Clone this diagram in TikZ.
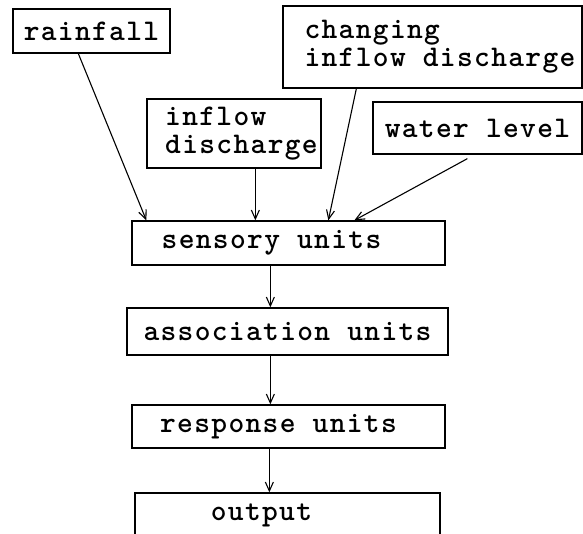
\documentclass[tikz,border=0pt]{standalone}
\usepackage{fontspec}
\setmonofont{lmmonolt10-bold.otf}[LetterSpace=4.5]
\usetikzlibrary{calc,arrows.meta}
\begin{document}
\begin{tikzpicture}[x=1pt,y=-1pt,
  box/.style={draw, line width=1.3pt, inner sep=0pt, align=left,
    font=\ttfamily\fontsize{30}{28}\selectfont},
  conn/.style={line width=1.1pt, -{Straight Barb[length=9pt,width=8pt]}}]
\useasboundingbox (0,0) rectangle (583,533);
\node[box, minimum width=157pt, minimum height=44pt] (rain) at (91.5,31) {rainfall};
\node[box, minimum width=299pt, minimum height=82pt] (chg) at (432.5,47) {\hspace*{15pt}changing\\\hspace*{15pt}inflow discharge};
\node[box, minimum width=174pt, minimum height=69pt] (inf) at (234,133.5) {\hspace*{15pt}inflow\\\hspace*{15pt}discharge};
\node[box, minimum width=209pt, minimum height=52pt] (wl) at (477.5,128) {water level};
\node[box, minimum width=313pt, minimum height=44pt] (sens) at (288.5,243) {sensory units\hspace*{34pt}};
\node[box, minimum width=321pt, minimum height=47pt] (assoc) at (287.5,331.5) {association units};
\node[box, minimum width=313pt, minimum height=43pt] (resp) at (288.5,426.5) {response units\hspace*{20pt}};
\node[box, minimum width=305pt, minimum height=44pt] (out) at (287.5,515) {output\hspace*{52pt}};
\draw[conn] ($(rain.south west)+(66,0)$) -- ($(sens.north west)+(15,0)$);
\draw[conn] ($(inf.south west)+(109,0)$) -- ($(sens.north west)+(124,0)$);
\draw[conn] ($(chg.south west)+(74,0)$) -- ($(sens.north west)+(197,0)$);
\draw[conn] ($(wl.south west)+(95,4)$) -- ($(sens.north west)+(223,0)$);
\draw[conn] ($(sens.south west)+(139,0)$) -- ($(assoc.north west)+(144,0)$);
\draw[conn] ($(assoc.south west)+(144,0)$) -- ($(resp.north west)+(139,0)$);
\draw[conn] ($(resp.south west)+(138,0)$) -- ($(out.north west)+(135,0)$);
\end{tikzpicture}
\end{document}
